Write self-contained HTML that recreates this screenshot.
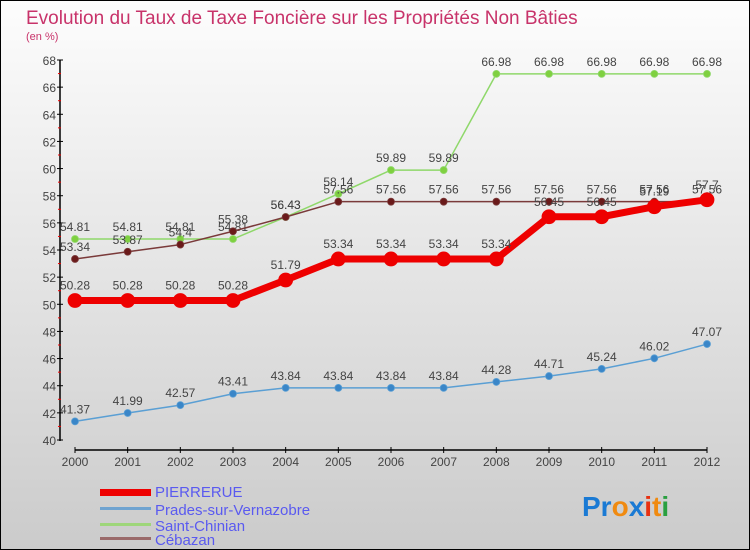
<!DOCTYPE html>
<html><head><meta charset="utf-8"><style>
body{margin:0;width:750px;height:550px;overflow:hidden;font-family:"Liberation Sans",sans-serif}
svg{display:block}
</style></head><body>
<svg id="chart" width="750" height="550" xmlns="http://www.w3.org/2000/svg">
<defs><linearGradient id="bg" x1="0" y1="0" x2="0" y2="1"><stop offset="0" stop-color="#fdfdfd"/><stop offset="1" stop-color="#cbcbcb"/></linearGradient></defs>
<rect x="0.5" y="0.5" width="749" height="549" fill="url(#bg)" stroke="#000"/>
<text x="26" y="24" font-size="19" fill="#c8336a">Evolution du Taux de Taxe Foncière sur les Propriétés Non Bâties</text>
<text x="26" y="40" font-size="11" fill="#c8336a">(en %)</text>
<g id="plot"></g>
<g>
<rect x="100" y="489" width="51" height="7" fill="#ee0000"/>
<text x="155" y="497" font-size="15" fill="#5a5af0">PIERRERUE</text>
<rect x="100" y="507" width="51" height="3" fill="#6fa3d0"/>
<text x="155" y="515" font-size="15" fill="#5a5af0">Prades-sur-Vernazobre</text>
<rect x="100" y="523" width="51" height="3" fill="#9ed67a"/>
<text x="155" y="531" font-size="15" fill="#5a5af0">Saint-Chinian</text>
<rect x="100" y="537" width="51" height="3" fill="#9a6a6a"/>
<text x="155" y="545" font-size="15" fill="#5a5af0">Cébazan</text>
</g>
<g font-size="28" font-weight="bold">
<text x="582" y="516"><tspan fill="#1a7ad4">Pr</tspan><tspan fill="#f08a10">o</tspan><tspan fill="#1a7ad4">x</tspan><tspan fill="#e83010">i</tspan><tspan fill="#f08a10">t</tspan><tspan fill="#2aa040">i</tspan></text>
</g>
</svg>
<script>
const years=[2000,2001,2002,2003,2004,2005,2006,2007,2008,2009,2010,2011,2012];
const pierrerue=[50.28,50.28,50.28,50.28,51.79,53.34,53.34,53.34,53.34,56.45,56.45,57.19,57.7];
const prades=[41.37,41.99,42.57,43.41,43.84,43.84,43.84,43.84,44.28,44.71,45.24,46.02,47.07];
const chinian=[54.81,54.81,54.81,54.81,56.43,58.14,59.89,59.89,66.98,66.98,66.98,66.98,66.98];
const cebazan=[53.34,53.87,54.4,55.38,56.43,57.56,57.56,57.56,57.56,57.56,57.56,57.56,57.56];
const yTicks=[40,42,44,46,48,50,52,54,56,58,60,62,64,66,68];
const NS="http://www.w3.org/2000/svg";
const g=document.getElementById('plot');
const X=i=>75+i*(707-75)/(years.length-1);
const Y=v=>440-(v-40)*(380/28);
function el(t,a,p){const e=document.createElementNS(NS,t);for(const k in a)e.setAttribute(k,a[k]);(p||g).appendChild(e);return e;}
const ax=el('line',{x1:60,y1:60,x2:60,y2:441,stroke:'#000','stroke-width':1.5});


yTicks.forEach(v=>{
 el('line',{x1:57,x2:63,y1:Y(v),y2:Y(v),stroke:'#000'});
 if(v<68) el('line',{x1:58,x2:61,y1:Y(v+1),y2:Y(v+1),stroke:'#e00'});
 const t=el('text',{x:56,y:Y(v)+5,'font-size':12,fill:'#444','text-anchor':'end'});
 t.textContent=v;
 
 
});
const xa=el('line',{x1:75,y1:450,x2:707,y2:450,stroke:'#000','stroke-width':1.5});


years.forEach((y,i)=>{
 el('line',{x1:X(i),x2:X(i),y1:447,y2:453,stroke:'#000'});
 const t=el('text',{x:X(i),y:466,'font-size':12,fill:'#444','text-anchor':'middle'});
 t.textContent=y;
 
 
});
function series(name,data,color,fill,w,r,labelOff){
 const s=el('g',{});
 
 
 el('polyline',{points:data.map((v,i)=>X(i)+','+Y(v)).join(' '),fill:'none',stroke:color,'stroke-width':w,'stroke-linejoin':'round'},s);
 data.forEach((v,i)=>{
  const c=el('circle',{cx:X(i),cy:Y(v),r:r,fill:fill,stroke:color,'stroke-width':0.8},s);
  
  
  const t=el('text',{x:X(i),y:Y(v)-labelOff,'font-size':12,fill:'#444','text-anchor':'middle'},s);
  t.textContent=String(v);
 });
}
series('series-prades',prades,'#5a9fd4','#3a86c8',1.5,3.5,8);
series('series-saint-chinian',chinian,'#8fd86a','#7fd040',1.5,3.5,8);
series('series-cebazan',cebazan,'#7a3a3a','#6a1a1a',1.5,3.5,8);
series('series-pierrerue',pierrerue,'#ee0000','#ee0000',7,7,11);
</script>
</body></html>
